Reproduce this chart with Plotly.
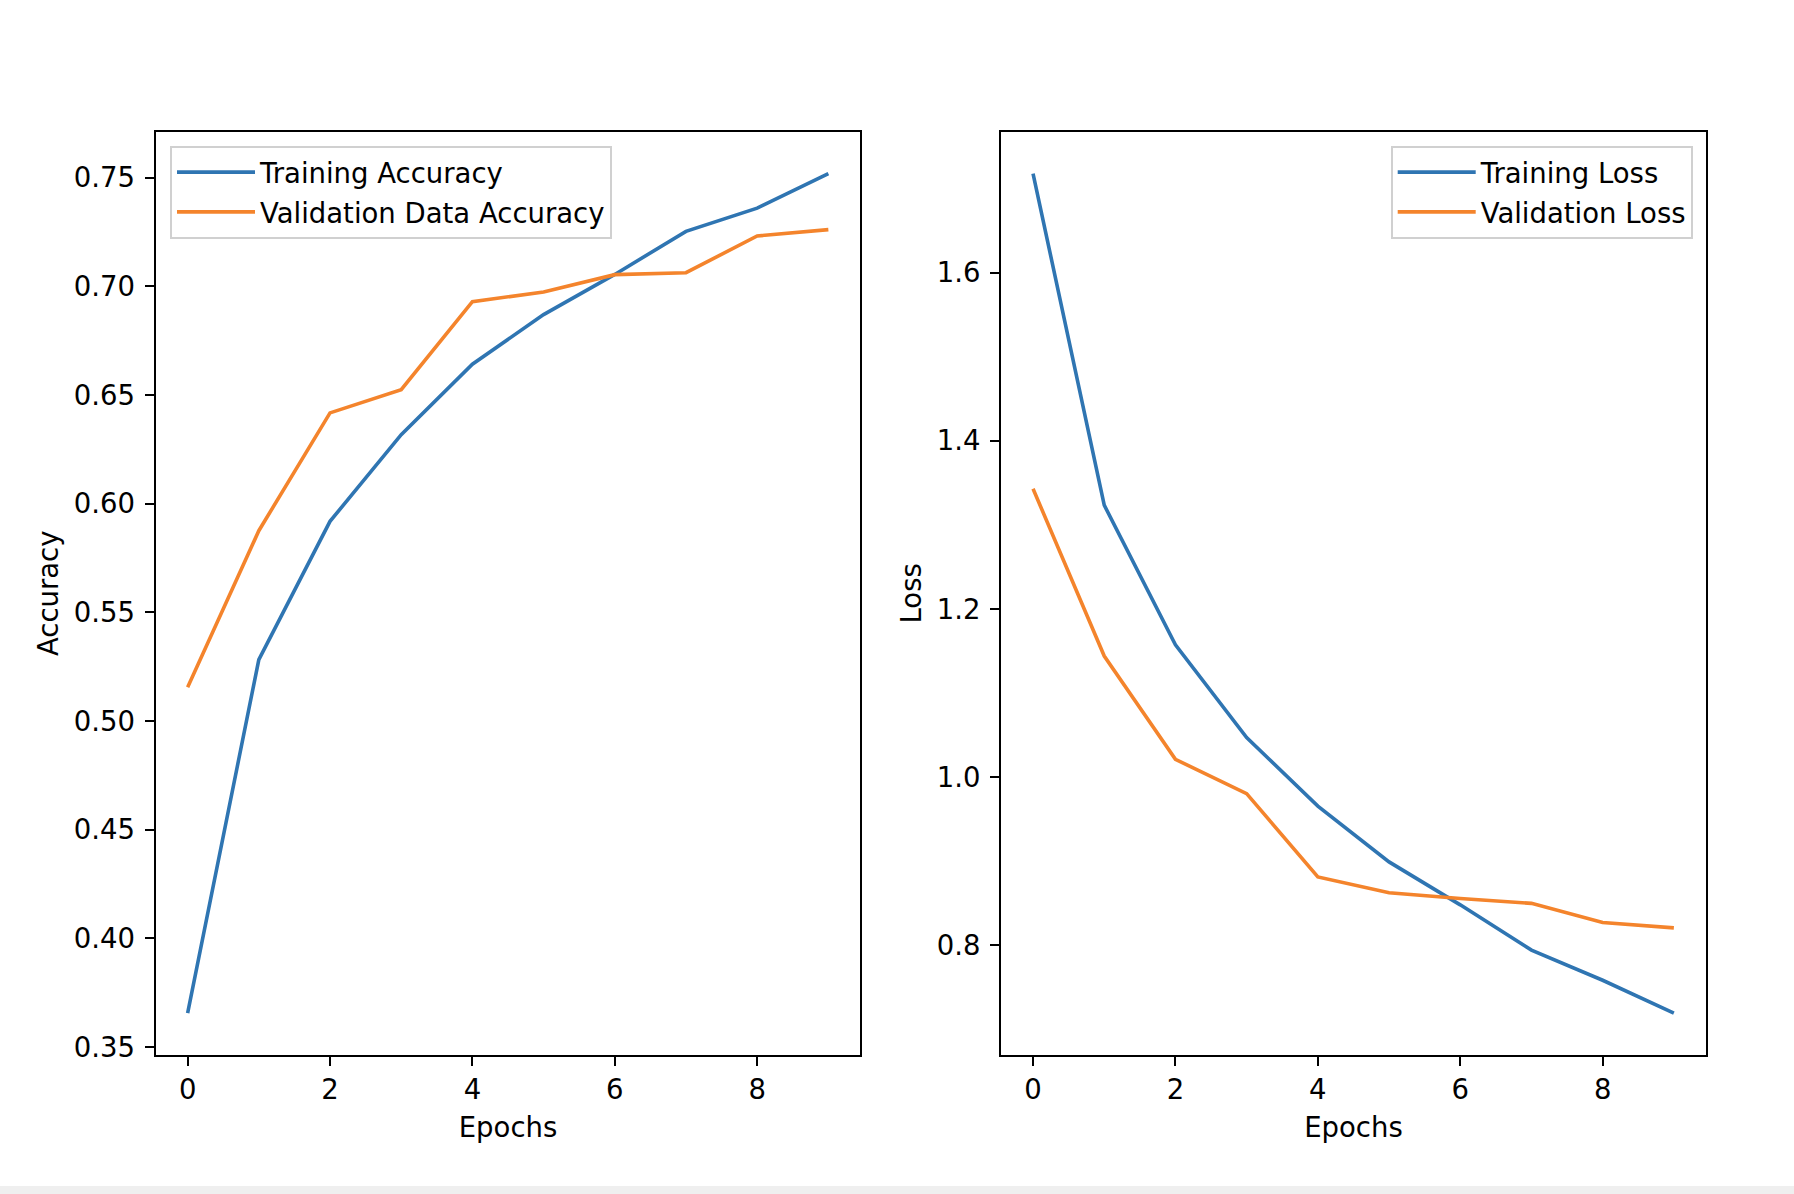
import plotly.graph_objects as go

# ---- data ----
epochs = [0, 1, 2, 3, 4, 5, 6, 7, 8, 9]
train_acc = [0.3657, 0.5283, 0.5919, 0.6318, 0.6642, 0.6870, 0.7055, 0.7253, 0.7360, 0.7519]
val_acc = [0.5156, 0.5876, 0.6418, 0.6525, 0.6930, 0.6974, 0.7054, 0.7063, 0.7232, 0.7261]
train_loss = [1.7180, 1.3235, 1.1574, 1.0471, 0.9655, 0.8991, 0.8480, 0.7942, 0.7583, 0.7193]
val_loss = [1.3430, 1.1440, 1.0211, 0.9803, 0.8812, 0.8623, 0.8556, 0.8498, 0.8269, 0.8206]

acc_ticks = [0.35, 0.40, 0.45, 0.50, 0.55, 0.60, 0.65, 0.70, 0.75]
loss_ticks = [0.8, 1.0, 1.2, 1.4, 1.6]
x_ticks = [0, 2, 4, 6, 8]

BLUE = "#2f75b2"
ORANGE = "#f4842c"
FONT = "DejaVu Sans"
FS = 27.5
W, H = 1794, 1186


def px(x):
    return x / W


def py(y):
    return 1 - y / H


def padded(vals, frac=0.05):
    lo, hi = min(vals), max(vals)
    d = (hi - lo) * frac
    return [lo - d, hi + d]


xr = padded(epochs)
LW = 3.6

fig = go.Figure()
fig.add_trace(go.Scatter(x=epochs, y=train_acc, mode="lines", name="Training Accuracy",
                         line=dict(color=BLUE, width=LW), xaxis="x", yaxis="y",
                         legend="legend", legendgroup="a1"))
fig.add_trace(go.Scatter(x=epochs, y=val_acc, mode="lines", name="Validation Data Accuracy",
                         line=dict(color=ORANGE, width=LW), xaxis="x", yaxis="y",
                         legend="legend", legendgroup="a2"))
fig.add_trace(go.Scatter(x=epochs, y=train_loss, mode="lines", name="Training Loss",
                         line=dict(color=BLUE, width=LW), xaxis="x2", yaxis="y2",
                         legend="legend2", legendgroup="l1"))
fig.add_trace(go.Scatter(x=epochs, y=val_loss, mode="lines", name="Validation Loss",
                         line=dict(color=ORANGE, width=LW), xaxis="x2", yaxis="y2",
                         legend="legend2", legendgroup="l2"))

axis_common = dict(
    showline=True, linecolor="black", linewidth=2, mirror=True,
    ticks="outside", ticklen=9, tickwidth=2, tickcolor="black",
    showgrid=False, zeroline=False, automargin=False,
    tickfont=dict(family=FONT, size=FS, color="black"),
)

ydom = [py(1055), py(131.6)]

legend_common = dict(
    font=dict(family=FONT, size=FS, color="black"),
    bgcolor="rgba(255,255,255,0.8)", bordercolor="#d0d0d0", borderwidth=2,
    yanchor="top", y=py(145.7), tracegroupgap=1, itemwidth=78,
)

fig.update_layout(
    width=W, height=H,
    margin=dict(l=0, r=0, t=0, b=0),
    paper_bgcolor="white", plot_bgcolor="white",
    font=dict(family=FONT, size=FS, color="black"),
    xaxis=dict(domain=[px(155.6), px(860.4)], range=xr, tickvals=x_ticks,
               ticklabelstandoff=0,
               title=dict(text="Epochs", font=dict(family=FONT, size=FS), standoff=14),
               anchor="y", **axis_common),
    yaxis=dict(domain=ydom, range=padded(train_acc + val_acc), tickvals=acc_ticks,
               tickformat=".2f", ticklabelstandoff=4,
               title=dict(text="Accuracy", font=dict(family=FONT, size=FS), standoff=7),
               anchor="x", **axis_common),
    xaxis2=dict(domain=[px(1001), px(1705.9)], range=xr, tickvals=x_ticks,
                ticklabelstandoff=0,
                title=dict(text="Epochs", font=dict(family=FONT, size=FS), standoff=14),
                anchor="y2", **axis_common),
    yaxis2=dict(domain=ydom, range=padded(train_loss + val_loss), tickvals=loss_ticks,
                tickformat=".1f", ticklabelstandoff=4,
                title=dict(text="Loss", font=dict(family=FONT, size=FS), standoff=7),
                anchor="x2", **axis_common),
    legend=dict(x=px(170), xanchor="left", **legend_common),
    legend2=dict(x=px(1692.7), xanchor="right", **legend_common),
    showlegend=True,
)

# remove the default page margin; the strip below the figure is the window's grey toolbar edge
fig.write_html(
    "out.html",
    config={"displayModeBar": False},
    post_script=(
        "document.documentElement.style.margin='0px';"
        "document.body.style.margin='0px';"
        "document.body.style.overflow='hidden';"
        "document.body.style.background='#efefef';"
    ),
)
